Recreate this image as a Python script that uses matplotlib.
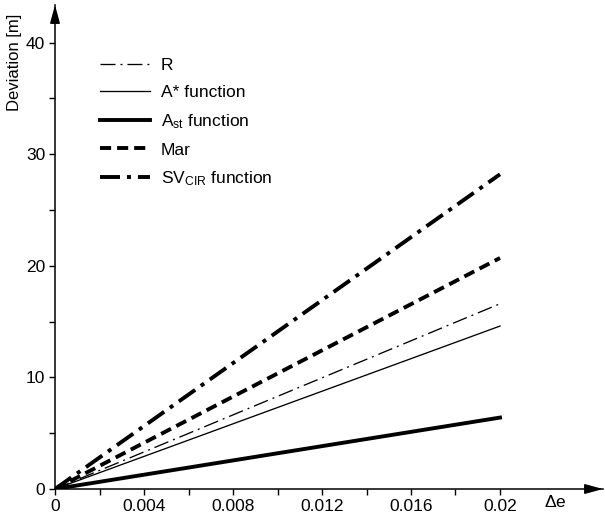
import matplotlib
matplotlib.use("Agg")
import matplotlib.pyplot as plt
from matplotlib import font_manager

# narrow sans if there is one, else Liberation Sans
names = set(f.name for f in font_manager.fontManager.ttflist)
FONT = "Liberation Sans Narrow" if "Liberation Sans Narrow" in names else "Liberation Sans"

plt.rcParams['font.family'] = [FONT, 'DejaVu Sans']
plt.rcParams['mathtext.fontset'] = 'custom'
plt.rcParams['mathtext.rm'] = FONT
plt.rcParams['mathtext.it'] = FONT
plt.rcParams['mathtext.default'] = 'rm'
plt.rcParams['lines.scale_dashes'] = False

### data ###
delta_e = [0.0, 0.02]
R = [0.0, 16.6]
A_star = [0.0, 14.6]
A_st = [0.0, 6.4]
Mar = [0.0, 20.7]
SV_CIR = [0.0, 28.2]

x_major = [0, 0.004, 0.008, 0.012, 0.016, 0.02]
x_labels = ['0', '0.004', '0.008', '0.012', '0.016', '0.02']
y_major = [0, 10, 20, 30, 40]

fig = plt.figure(figsize=(6.05, 5.19), dpi=100)
ax = fig.add_axes([55/605, 30/519, 548/605, 484/519])

ax.plot(delta_e, R, color='k', lw=0.95, dashes=(10.8, 3.6, 1.4, 3.6), label='R')
ax.plot(delta_e, A_star, color='k', lw=0.95, label='A* function')
ax.plot(delta_e, A_st, color='k', lw=2.8, label=r'A$_{st}$ function')
ax.plot(delta_e, Mar, color='k', lw=2.8, dashes=(8, 4.3), label='Mar')
ax.plot(delta_e, SV_CIR, color='k', lw=2.8, dashes=(14.4, 5, 2.9, 5), label=r'SV$_{CIR}$ function')

ax.set_xlim(0, 548/22250)
ax.set_ylim(0, 484/11.16)

for s in ['top', 'right']:
    ax.spines[s].set_visible(False)
for s in ['left', 'bottom']:
    ax.spines[s].set_linewidth(1.1)

ax.set_xticks(x_major)
ax.set_xticklabels(x_labels)
ax.set_xticks([0.002, 0.006, 0.01, 0.014, 0.018], minor=True)
ax.set_yticks(y_major)
ax.set_yticks([5, 15, 25, 35], minor=True)
ax.tick_params(which='both', direction='out', length=4, width=1, labelsize=12.5, pad=3)

# axis arrows
ax.annotate('', xy=(1, 0), xytext=(0.97, 0), xycoords='axes fraction',
            arrowprops=dict(arrowstyle='-|>,head_length=1.1,head_width=0.3', color='k', lw=1.1, shrinkA=0, shrinkB=0))
ax.annotate('', xy=(0, 1), xytext=(0, 0.97), xycoords='axes fraction',
            arrowprops=dict(arrowstyle='-|>,head_length=1.1,head_width=0.3', color='k', lw=1.1, shrinkA=0, shrinkB=0))

fig.text(15/605, 1 - 62/519, 'Deviation [m]', rotation=90, ha='center', va='center', fontsize=12)
fig.text(555/605, 1 - 502/519, r'$\Delta$e', ha='center', va='center', fontsize=12.5)

ax.legend(loc='upper left', bbox_to_anchor=((100 - 55)/548, 1 - (58 - 5)/484), frameon=False,
          fontsize=12.5, handlelength=2.9, handletextpad=0.6, labelspacing=0.68, borderaxespad=0, borderpad=0)

fig.savefig('out.png', dpi=100)
